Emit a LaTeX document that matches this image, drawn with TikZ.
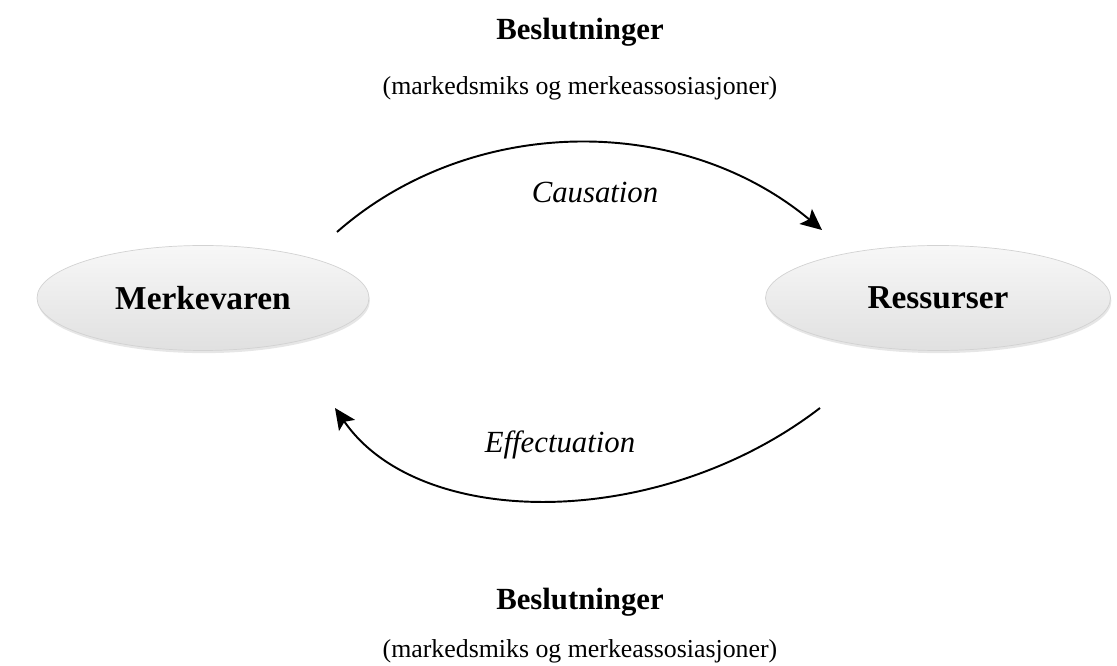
\documentclass[tikz,border=0pt]{standalone}
\usepackage{fontspec}
\setmainfont{Liberation Serif}
\usepackage{tikz}
\usetikzlibrary{arrows.meta,shapes.geometric,shadows}

\tikzset{
  oval/.style={ellipse,minimum width=6.7cm,minimum height=2.1cm,draw=gray!35,line width=0.4pt,
    top color=gray!6,bottom color=gray!24,drop shadow={opacity=0.2,shadow xshift=0.5pt,shadow yshift=-1.5pt},
    font=\fontsize{19}{22}\selectfont\bfseries},
  headline/.style={font=\fontsize{17.5}{20}\selectfont\bfseries},
  subline/.style={font=\fontsize{14.7}{17}\selectfont},
  arclabel/.style={font=\fontsize{17.5}{20}\selectfont\itshape},
  flow/.style={line width=1.1pt,-{Stealth[length=12pt,width=11pt,inset=2.5pt]}}
}

\begin{document}
\begin{tikzpicture}[>=Stealth]
\useasboundingbox (0,0) rectangle (22.34,-13.32);
% decisions, top
\node[headline] (top) at (11.6,-0.64) {Beslutninger};
\node[subline] (topsub) at (11.6,-1.76) {(markedsmiks og merkeassosiasjoner)};
% the two ovals
\node[oval,minimum width=6.64cm] (merke) at (4.06,-5.96) {Merkevaren};
\node[oval,minimum width=6.9cm] (ressurs) at (18.76,-5.96) {Ressurser};
% arc ends
\coordinate (c1) at (6.74,-4.64);
\coordinate (c2) at (16.44,-4.6);
\coordinate (e1) at (16.4,-8.16);
\coordinate (e2) at (6.7,-8.16);
\draw[flow] (c1) .. controls (9.4,-2.3) and (13.6,-2.24) .. (c2);
\draw[flow] (e1) .. controls (13.2,-10.62) and (8.4,-10.62) .. (e2);
\node[arclabel] (caus) at (11.9,-3.86) {Causation};
\node[arclabel] (effect) at (11.2,-8.9) {Effectuation};
% decisions, bottom
\node[headline] (bot) at (11.6,-12.04) {Beslutninger};
\node[subline] (botsub) at (11.6,-13.02) {(markedsmiks og merkeassosiasjoner)};
\end{tikzpicture}
\end{document}
